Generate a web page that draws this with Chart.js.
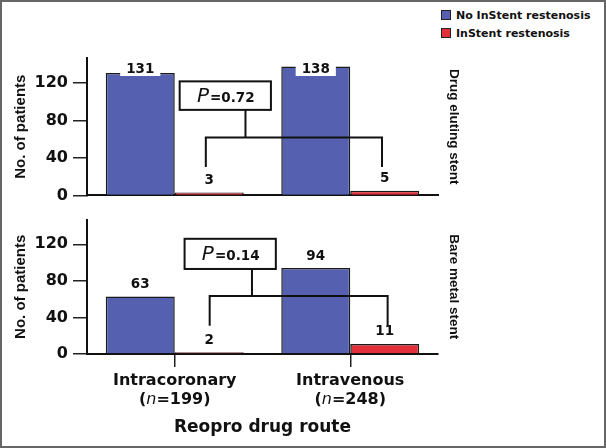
<!DOCTYPE html>
<html>
<head>
<meta charset="utf-8">
<script src="https://cdn.jsdelivr.net/npm/chart.js@4.4.1/dist/chart.umd.min.js"></script>
<style>
  body { margin: 0; background: #fff; }
  #wrap { position: relative; width: 606px; height: 448px; overflow: hidden; }
  #frame { position: absolute; left: 0; top: 0; width: 606px; height: 448px; box-sizing: border-box; border: 2px solid #666; pointer-events: none; }
  canvas { position: absolute; left: 0; }
  #topChart { top: 40px; }
  #bottomChart { top: 205px; }
  #legend { position: absolute; left: 441px; top: 6px; font: bold 11px 'DejaVu Sans', sans-serif; color: #111; }
  .item { display: flex; align-items: center; height: 18px; white-space: nowrap; }
  .sq { width: 8px; height: 8px; border: 1px solid #222; margin-right: 5px; }
</style>
</head>
<body>
<div id="wrap">
  <div id="legend"></div>
  <canvas id="topChart" width="606" height="170"></canvas>
  <canvas id="bottomChart" width="606" height="243"></canvas>
  <div id="frame"></div>
</div>
<script>
// data
const routes = ['Intracoronary', 'Intravenous'];
const routeN = [199, 248];
const seriesNames = ['No InStent restenosis', 'InStent restenosis'];
const seriesColors = ['#5660b1', '#e2303a'];
const drugElutingNo = [131, 138];
const drugElutingYes = [3, 5];
const bareMetalNo = [63, 94];
const bareMetalYes = [2, 11];
const yTicks = [0, 40, 80, 120];
const pValues = ['0.72', '0.14'];

// where the P-value brackets sit (category units / y units)
const brackets = [
    { boxX: [0.028, 0.548], boxY: [91.5, 122], stemX: 0.403, barY: 62, legX: [0.177, 1.181], legY: 30.5 },
    { boxX: [0.056, 0.576], boxY: [93, 126], stemX: 0.44, barY: 63.5, legX: [0.199, 1.213], legY: 31 }
];

Chart.defaults.font.family = "'DejaVu Sans', sans-serif";
Chart.defaults.color = '#111';

// legend
const legendEl = document.getElementById('legend');
seriesNames.forEach((name, i) => {
    const row = document.createElement('div');
    row.className = 'item';
    row.innerHTML = '<span class="sq" style="background:' + seriesColors[i] + '"></span>' + name;
    legendEl.appendChild(row);
});

const annotations = {
    id: 'annotations',
    afterDatasetsDraw(chart, args, opts) {
        const ctx = chart.ctx;
        const xs = chart.scales.x;
        const ys = chart.scales.y;
        const top = chart.chartArea.top;
        ctx.save();

        // value labels above the bars
        ctx.font = "bold 13.5px 'DejaVu Sans'";
        ctx.textAlign = 'center';
        ctx.textBaseline = 'middle';
        chart.data.datasets.forEach((ds, i) => {
            chart.getDatasetMeta(i).data.forEach((bar, j) => {
                const text = String(ds.data[j]);
                const y = Math.max(bar.y - 13, top + 10);
                const w = ctx.measureText(text).width + 12;
                ctx.fillStyle = '#fff';
                ctx.fillRect(bar.x - w / 2, y - 8, w, 16);
                ctx.fillStyle = '#111';
                ctx.fillText(text, bar.x, y + 1);
            });
        });

        // P value bracket
        const b = opts.bracket;
        const px = v => xs.getPixelForValue(v);
        const py = v => ys.getPixelForValue(v);
        ctx.strokeStyle = '#111';
        ctx.lineWidth = 2;
        ctx.beginPath();
        ctx.moveTo(px(b.stemX), py(b.boxY[0]));
        ctx.lineTo(px(b.stemX), py(b.barY));
        ctx.moveTo(px(b.legX[0]), py(b.legY));
        ctx.lineTo(px(b.legX[0]), py(b.barY));
        ctx.lineTo(px(b.legX[1]), py(b.barY));
        ctx.lineTo(px(b.legX[1]), py(b.legY));
        ctx.stroke();

        const bx = px(b.boxX[0]), bw = px(b.boxX[1]) - bx;
        const by = py(b.boxY[1]), bh = py(b.boxY[0]) - by;
        ctx.fillStyle = '#fff';
        ctx.fillRect(bx, by, bw, bh);
        ctx.strokeRect(bx, by, bw, bh);

        const pFont = "italic 20px 'DejaVu Sans'";
        const vFont = "bold 13.5px 'DejaVu Sans'";
        const vText = '=' + opts.pValue;
        ctx.font = pFont;
        const pw = ctx.measureText('P').width;
        ctx.font = vFont;
        const vw = ctx.measureText(vText).width;
        let tx = bx + bw / 2 - (pw + vw) / 2;
        const ty = by + bh / 2 + 6;
        ctx.textAlign = 'left';
        ctx.textBaseline = 'alphabetic';
        ctx.fillStyle = '#111';
        ctx.font = pFont;
        ctx.fillText('P', tx, ty);
        ctx.font = vFont;
        ctx.fillText(vText, tx + pw + 1, ty);

        // (n=...) line under category names
        if (opts.showN) {
            const ny = xs.top + 13 + 4 + 9.6 + 19.2;
            const bold = "bold 16px 'DejaVu Sans'";
            const ital = "italic 16px 'DejaVu Sans'";
            routeN.forEach((n, i) => {
                const parts = [['(', bold], ['n', ital], ['=' + n + ')', bold]];
                let total = 0;
                parts.forEach(p => { ctx.font = p[1]; p.push(ctx.measureText(p[0]).width); total += p[2]; });
                let x = xs.getPixelForValue(i) - total / 2;
                ctx.textBaseline = 'middle';
                parts.forEach(p => { ctx.font = p[1]; ctx.fillText(p[0], x, ny); x += p[2]; });
            });
        }
        ctx.restore();
    }
};

function makeChart(id, noData, yesData, sideTitle, idx, isBottom) {
    const xScale = isBottom ? {
        afterFit: s => { s.height = 92; },
        ticks: { color: '#111', font: { size: 16, weight: 'bold' }, padding: 4, maxRotation: 0 },
        grid: { drawOnChartArea: false, offset: false, tickLength: 13, color: '#222', lineWidth: 1.5 },
        border: { color: '#111', width: 2 },
        title: { display: true, text: 'Reopro drug route', color: '#111', font: { size: 17, weight: 'bold' }, padding: { top: 0, bottom: 8 } }
    } : {
        afterFit: s => { s.height = 0; },
        ticks: { display: false },
        grid: { display: false },
        border: { color: '#111', width: 2 }
    };

    return new Chart(document.getElementById(id), {
        type: 'bar',
        data: {
            labels: routes,
            datasets: [
                { label: seriesNames[0], data: noData, backgroundColor: seriesColors[0], borderColor: '#1a1a1a', borderWidth: 1.5, categoryPercentage: 0.786, barPercentage: 1 },
                { label: seriesNames[1], data: yesData, backgroundColor: seriesColors[1], borderColor: '#1a1a1a', borderWidth: 1.5, categoryPercentage: 0.786, barPercentage: 1 }
            ]
        },
        options: {
            responsive: false,
            animation: false,
            layout: { padding: { left: 0, right: 144, top: isBottom ? 8 : 18, bottom: isBottom ? 2 : 13 } },
            plugins: {
                legend: { display: false },
                tooltip: { enabled: false },
                annotations: { bracket: brackets[idx], pValue: pValues[idx], showN: isBottom }
            },
            scales: {
                x: xScale,
                y: {
                    min: 0,
                    max: 147,
                    afterFit: s => { s.width = 87; },
                    afterBuildTicks: s => { s.ticks = yTicks.map(v => ({ value: v })); },
                    ticks: { color: '#111', font: { size: 16, weight: 'bold' }, padding: 5 },
                    grid: { drawOnChartArea: false, tickLength: 14, color: '#222', lineWidth: 1.5 },
                    border: { color: '#111', width: 2 },
                    title: { display: true, text: 'No. of patients', color: '#111', font: { family: "'Liberation Sans', Arial, sans-serif", size: 15, weight: 'bold' }, padding: { top: 12, bottom: 0 } }
                },
                y2: {
                    position: 'right',
                    afterFit: s => { s.width = 24; },
                    ticks: { display: false },
                    grid: { display: false },
                    border: { display: false },
                    title: { display: true, text: sideTitle, color: '#111', font: { family: "'Liberation Sans', Arial, sans-serif", size: 13.5, weight: 'bold' }, padding: 0 }
                }
            }
        },
        plugins: [annotations]
    });
}

makeChart('topChart', drugElutingNo, drugElutingYes, 'Drug eluting stent', 0, false);
makeChart('bottomChart', bareMetalNo, bareMetalYes, 'Bare metal stent', 1, true);
</script>
</body>
</html>
